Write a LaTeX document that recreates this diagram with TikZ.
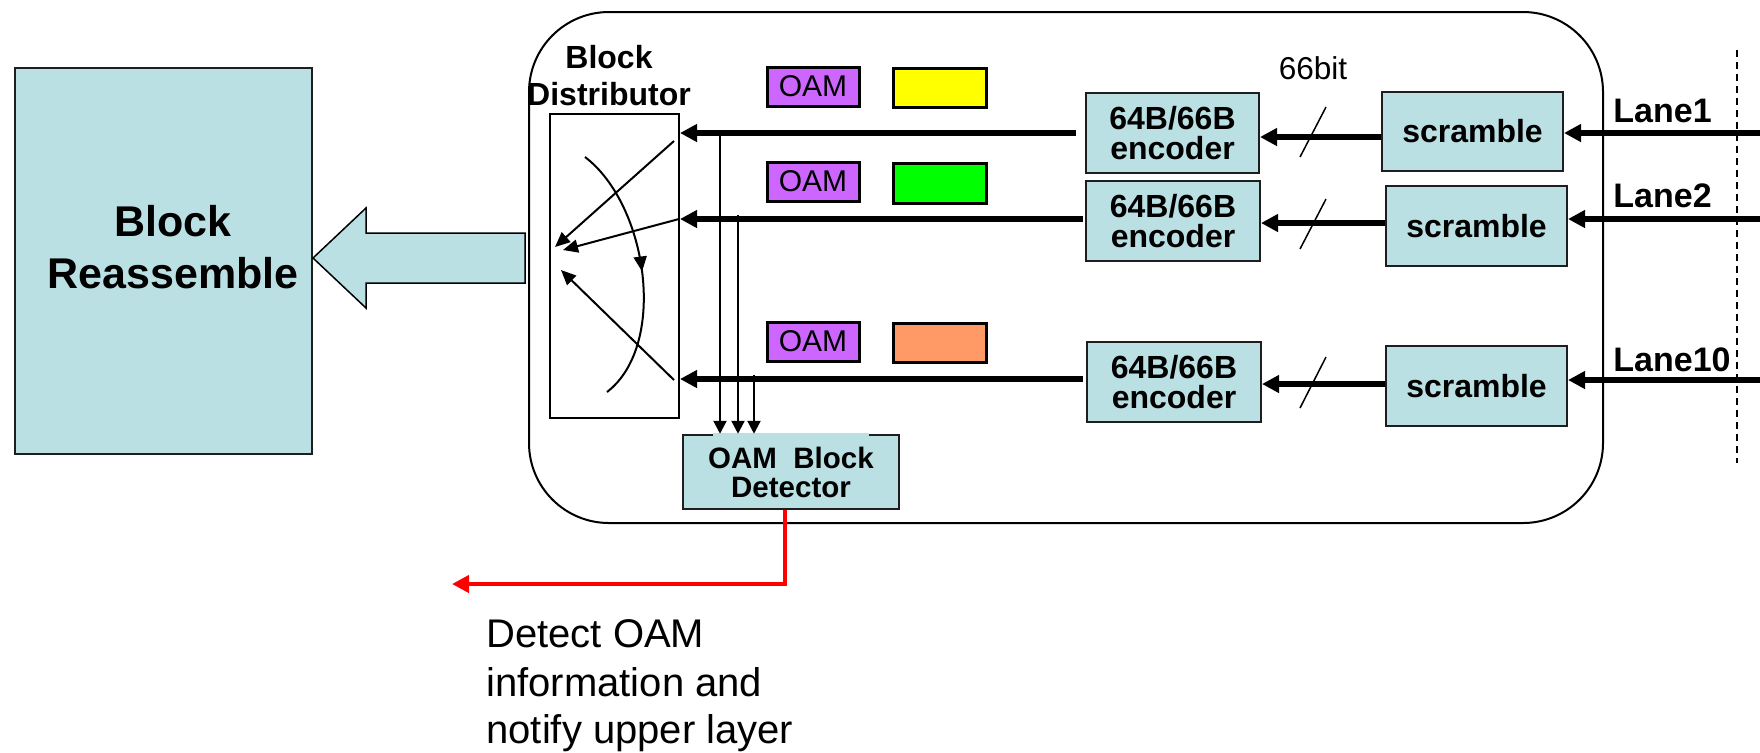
\documentclass[tikz,border=0pt]{standalone}
\usepackage{fontspec}
\setmainfont{Liberation Sans}
\usetikzlibrary{arrows.meta,calc,decorations.markings}

\definecolor{boxblue}{RGB}{187,224,227}
\definecolor{edge}{RGB}{30,30,30}
\definecolor{oampurple}{RGB}{204,102,255}
\definecolor{blkyellow}{RGB}{255,255,0}
\definecolor{blkgreen}{RGB}{0,255,0}
\definecolor{blkorange}{RGB}{255,153,102}
\definecolor{alertred}{RGB}{255,0,0}

\begin{document}
\begin{tikzpicture}[x=0.5pt,y=-0.5pt,
  boxsize/.style 2 args={minimum width=#1*0.5pt, minimum height=#2*0.5pt, inner sep=0pt},
  block/.style={draw=edge, fill=boxblue, line width=1pt, align=center,
    font=\bfseries\fontsize{16}{15}\selectfont},
  tag/.style={draw=black, line width=1.5pt, inner sep=0pt},
  fat/.style={line width=2.7pt, -{Triangle[length=8.5pt,width=8.5pt]}},
  tap/.style={line width=1.1pt, -{Triangle[length=6.5pt,width=6.5pt]}},
  swing/.style={line width=1pt, -{Triangle[length=7.5pt,width=6.5pt]}},
  lanelabel/.style={anchor=base west, inner sep=0pt, font=\bfseries\fontsize{17}{17}\selectfont},
  bigtext/.style={anchor=base, inner sep=0pt, font=\bfseries\fontsize{21.5}{26}\selectfont},
  headtext/.style={anchor=base, inner sep=0pt, font=\bfseries\fontsize{16}{16}\selectfont},
  note/.style={anchor=base west, inner sep=0pt, font=\fontsize{20}{24}\selectfont},
]
\useasboundingbox (0,0) rectangle (1760,752);

% receiving side: reassembly block and wide arrow into it
\node[block, boxsize={297}{386}] (reasm) at (163,261) {};
\node[bigtext] (reasmA) at (173,236) {Block};
\node[bigtext] (reasmB) at (173,288) {Reassemble};
\draw[fill=boxblue, draw=black, line width=0.75pt]
  (525,233) -- (366,233) -- (366,208) -- (313,258) -- (366,308) -- (366,283) -- (525,283) -- cycle;

% outer frame of the lane processing unit
\draw[line width=1pt, rounded corners=40pt] (529,12) rectangle (1603,523);

% block distributor
\node[headtext] (distA) at (609,68) {Block};
\node[headtext] (distB) at (609,105) {Distributor};
\node[draw=black, line width=1pt, boxsize={129}{304}] (dist) at (614.5,266) {};

% OAM blocks and data blocks
\node[tag, fill=oampurple, boxsize={92}{39}, font=\fontsize{15}{15}\selectfont] (oam1) at (813,86.5) {OAM};
\node[tag, fill=oampurple, boxsize={92}{39}, font=\fontsize{15}{15}\selectfont] (oam2) at (813,181.5) {OAM};
\node[tag, fill=oampurple, boxsize={92}{39}, font=\fontsize{15}{15}\selectfont] (oam3) at (813,341.5) {OAM};
\node[tag, fill=blkyellow, boxsize={93}{39}] (pay1) at (939.5,87.5) {};
\node[tag, fill=blkgreen, boxsize={93}{40}] (pay2) at (939.5,183) {};
\node[tag, fill=blkorange, boxsize={93}{39}] (pay3) at (939.5,342.5) {};

% encoders and scramblers
\node[block, boxsize={173}{80}] (enc1) at (1172.5,133) {64B/66B\\encoder};
\node[block, boxsize={174}{80}] (enc2) at (1173,221) {64B/66B\\encoder};
\node[block, boxsize={174}{80}] (enc3) at (1174,382) {64B/66B\\encoder};
\node[block, boxsize={181}{79}] (scr1) at (1472.5,131.5) {scramble};
\node[block, boxsize={181}{80}] (scr2) at (1476.5,226) {scramble};
\node[block, boxsize={181}{80}] (scr3) at (1476.5,386) {scramble};

\node[anchor=base, inner sep=0pt, font=\fontsize{15.8}{15.8}\selectfont] (bits) at (1313,79) {66bit};

% OAM block detector
\node[block, line width=1.25pt, boxsize={216}{74}, font=\bfseries\fontsize{14.75}{14.5}\selectfont]
  (det) at (791,472) {OAM\ \ Block\\Detector};
\fill[boxblue] (713,433) rectangle (869,437.5);

% lane inputs
\coordinate (in1) at (1762,133);
\coordinate (in2) at (1762,219);
\coordinate (in3) at (1762,380);
\draw[fat] (in1) -- (in1 -| scr1.east);
\draw[fat] (in2) -- (in2 -| scr2.east);
\draw[fat] (in3) -- (in3 -| scr3.east);
\node[lanelabel] (lane1) at (1613,122) {Lane1};
\node[lanelabel] (lane2) at (1613,207) {Lane2};
\node[lanelabel] (lane10) at (1613,371) {Lane10};
\draw[line width=0.6pt, dash pattern=on 3.5pt off 2.5pt] (1737,50) -- (1737,463);

% scrambler to encoder, 66 bit wide
\coordinate (m1) at (1340,137);
\coordinate (m2) at (1340,223);
\coordinate (m3) at (1340,384);
\draw[fat] (m1 -| scr1.west) -- (m1 -| enc1.east);
\draw[fat] (m2 -| scr2.west) -- (m2 -| enc2.east);
\draw[fat] (m3 -| scr3.west) -- (m3 -| enc3.east);
\draw[line width=0.75pt] (1326,107) -- (1300,157);
\draw[line width=0.75pt] (1326,199) -- (1300,249);
\draw[line width=0.75pt] (1326,357) -- (1300,408);

% encoder to distributor
\coordinate (e1) at (1076,133);
\coordinate (e2) at (1083,219);
\coordinate (e3) at (1083,379);
\draw[fat] (e1) -- (e1 -| dist.east);
\draw[fat] (e2) -- (e2 -| dist.east);
\draw[fat] (e3) -- (e3 -| dist.east);

% taps into the detector
\coordinate (t1) at (720,133);
\coordinate (t2) at (738,215);
\coordinate (t3) at (754,375);
\draw[tap] (t1) -- (t1 |- det.north);
\draw[tap] (t2) -- (t2 |- det.north);
\draw[tap] (t3) -- (t3 |- det.north);

% round-robin distribution inside the distributor
\draw[swing] (674,141) -- (555,247);
\draw[swing] (679,219) -- (563,250);
\draw[swing] (674,380) -- (561,270);
\draw[line width=1pt, postaction={decorate},
  decoration={markings, mark=at position 0.5 with {\arrow{Triangle[length=7.5pt,width=6.5pt]}}}]
  (585,157) .. controls (648,205) and (668,345) .. (607,392);

% notification to the upper layer
\coordinate (r1) at (785,0);
\coordinate (r2) at (452,584);
\draw[alertred, line width=2.3pt, -{Triangle[length=8.5pt,width=8.5pt]}] (r1 |- det.south) |- (r2);
\node[note] (noteA) at (486,647) {Detect OAM};
\node[note] (noteB) at (486,696) {information and};
\node[note] (noteC) at (486,743) {notify upper layer};
\end{tikzpicture}
\end{document}
